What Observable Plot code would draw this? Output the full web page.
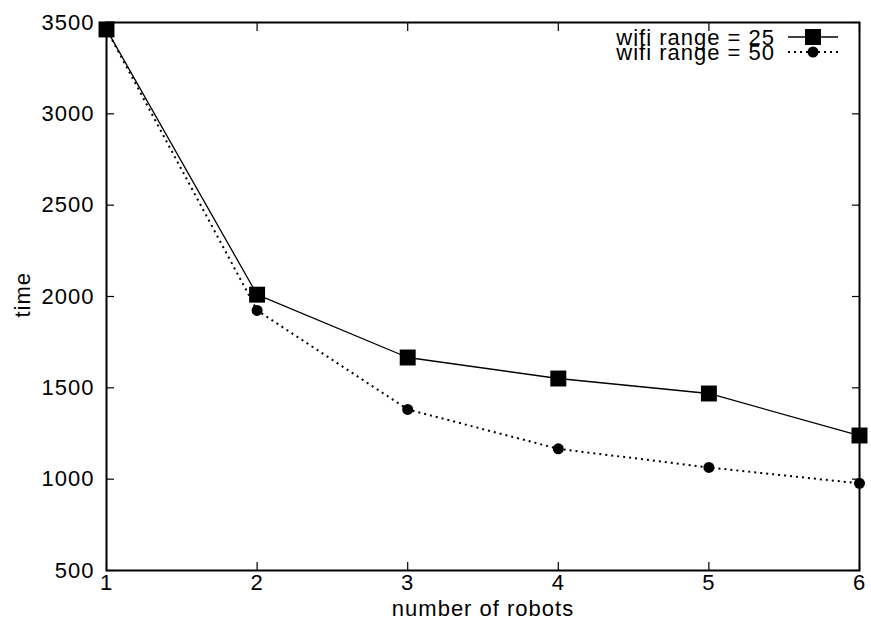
<!DOCTYPE html>
<html>
<head>
<meta charset="utf-8">
<script src="https://cdn.jsdelivr.net/npm/d3@7"></script>
<script src="https://cdn.jsdelivr.net/npm/@observablehq/plot@0.6"></script>
<style>
  body { margin: 0; background: #fff; }
  #chart svg { font-family: "Liberation Sans", Arial, sans-serif; }
  #chart svg text { font-size: 22px; letter-spacing: 1px; fill: #000; }
</style>
</head>
<body>
<div id="chart"></div>
<script>
const robots = [1, 2, 3, 4, 5, 6];
const time25 = [3462, 2010, 1666, 1551, 1469, 1239];
const time50 = [3462, 1924, 1382, 1166, 1064, 977];
const seriesNames = ["wifi range = 25", "wifi range = 50"];
const yTicks = [500, 1000, 1500, 2000, 2500, 3000, 3500];
const xTicks = [1, 2, 3, 4, 5, 6];

const d25 = robots.map((r, i) => ({robots: r, time: time25[i], series: seriesNames[0]}));
const d50 = robots.map((r, i) => ({robots: r, time: time50[i], series: seriesNames[1]}));

const W = 871, H = 626;
const mL = 106, mR = 12, mT = 22, mB = 56;
const fmt = d3.format("d");

const plot = Plot.plot({
  width: W,
  height: H,
  marginLeft: mL,
  marginRight: mR,
  marginTop: mT,
  marginBottom: mB,
  style: {fontSize: "22px", fontFamily: "Liberation Sans, Arial, sans-serif", color: "#000", background: "#fff"},
  x: {domain: [1, 6]},
  y: {domain: [500, 3500]},
  marks: [
    Plot.axisY(yTicks, {anchor: "left", tickSize: -8, tickPadding: 20, tickFormat: fmt, label: null, strokeWidth: 1.2}),
    Plot.axisY(yTicks, {anchor: "right", tickSize: -8, tickFormat: () => "", label: null, strokeWidth: 1.2}),
    Plot.axisX(xTicks, {anchor: "bottom", tickSize: -8, tickPadding: 12, tickFormat: fmt, label: null, strokeWidth: 1.2}),
    Plot.axisX(xTicks, {anchor: "top", tickSize: -8, tickFormat: () => "", label: null, strokeWidth: 1.2}),
    Plot.frame({stroke: "#000", strokeWidth: 2}),
    Plot.line(d25, {x: "robots", y: "time", stroke: "#000", strokeWidth: 1.3}),
    Plot.line(d50, {x: "robots", y: "time", stroke: "#000", strokeWidth: 2, strokeDasharray: "2,4", strokeLinecap: "butt"}),
    Plot.dot(d25, {x: "robots", y: "time", symbol: "square", fill: "#000", r: 9}),
    Plot.dot(d50, {x: "robots", y: "time", fill: "#000", r: 5.5}),
    Plot.text(["time"], {frameAnchor: "left", dx: -84, dy: 21, rotate: -90, fill: "#000"}),
    Plot.text(["number of robots"], {frameAnchor: "bottom", dy: 45, fill: "#000"})
  ]
});

// Legend (inside top-right corner)
const svg = d3.select(plot);
const leg = svg.append("g").attr("font-family", "Liberation Sans, Arial, sans-serif");
const legX = W - mR - 84;
const rows = [
  {name: seriesNames[0], y: mT + 15, dash: null, sw: 1.3, sym: "square"},
  {name: seriesNames[1], y: mT + 30, dash: "2,4", sw: 2, sym: "circle"}
];
rows.forEach(r => {
  leg.append("text").attr("x", legX).attr("y", r.y).attr("text-anchor", "end")
    .attr("dy", "0.35em").attr("fill", "#000").text(r.name);
  leg.append("line").attr("x1", legX + 13).attr("x2", legX + 63)
    .attr("y1", r.y).attr("y2", r.y).attr("stroke", "#000").attr("stroke-width", r.sw)
    .attr("stroke-dasharray", r.dash);
  if (r.sym === "square") {
    leg.append("rect").attr("x", legX + 38 - 8).attr("y", r.y - 8).attr("width", 16).attr("height", 16).attr("fill", "#000");
  } else {
    leg.append("circle").attr("cx", legX + 38).attr("cy", r.y).attr("r", 5.5).attr("fill", "#000");
  }
});

document.getElementById("chart").appendChild(plot);
</script>
</body>
</html>
